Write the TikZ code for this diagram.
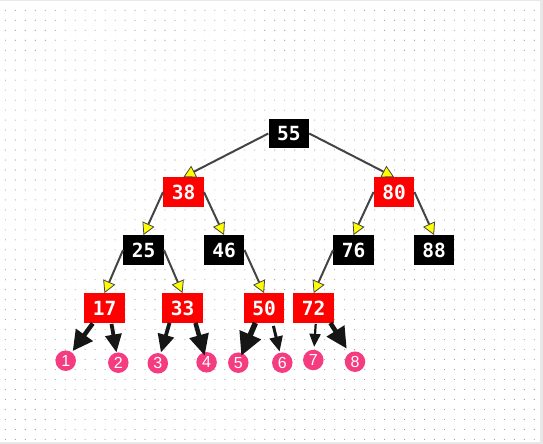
\documentclass[tikz,border=0pt]{standalone}
\usepackage{fontspec}
\newfontfamily\keyfont{DejaVu Sans Mono}
\newfontfamily\leaffont{Liberation Sans}
\definecolor{nodeRed}{RGB}{255, 0, 0}
\definecolor{edgeGray}{RGB}{68, 68, 68}
\definecolor{tipYellow}{RGB}{255, 255, 0}
\definecolor{leafPink}{RGB}{245, 60, 128}
\definecolor{leafInk}{RGB}{22, 22, 22}
\definecolor{dotGray}{RGB}{150, 150, 150}
\definecolor{frameGray}{RGB}{232, 232, 232}
\usetikzlibrary{arrows.meta}

\begin{document}
\begin{tikzpicture}[x=1pt,y=-1pt,
    key/.style={minimum width=40.5pt,minimum height=29.5pt,inner sep=0pt,text=white,
      font=\keyfont\bfseries\fontsize{19.5}{19.5}\selectfont},
    blacknode/.style={key,fill=black},
    rednode/.style={key,fill=nodeRed},
    leafnode/.style={circle,fill=leafPink,minimum size=20.5pt,inner sep=0pt,text=white,
      font=\leaffont\fontsize{16}{16}\selectfont},
    link/.style={draw=edgeGray,line width=2pt,
      -{Triangle[length=12pt,width=13pt,line width=0.8pt,color=edgeGray,fill=tipYellow]}},
    leaf/.style n args={3}{draw=leafInk,line width=#1,-{Triangle[length=#2,width=#3]}}]
  \useasboundingbox (0,0) rectangle (543,444);
  % canvas with dotted grid
  \fill[frameGray] (0,0) rectangle (543,444);
  \fill[white] (0,1) rectangle (539.5,442);
  \foreach \i in {0,...,53}
    \foreach \j in {0,...,43}
      \fill[dotGray] (5.3+9.98*\i,10.3+9.98*\j) circle (0.55pt);

  % Level 0
  \node[blacknode] (n55) at (288.8,133.5) {55};
  % Level 1
  \node[rednode] (n38) at (183.5,192) {38};
  \node[rednode] (n80) at (394,192) {80};
  % Level 2
  \node[blacknode] (n25) at (143.5,250) {25};
  \node[blacknode] (n46) at (224,250) {46};
  \node[blacknode] (n76) at (353.5,250) {76};
  \node[blacknode] (n88) at (434,250) {88};
  % Level 3
  \node[rednode] (n17) at (104.5,308) {17};
  \node[rednode] (n33) at (182.5,308) {33};
  \node[rednode] (n50) at (264,308) {50};
  \node[rednode] (n72) at (313.7,308) {72};
  % leaves
  \node[leafnode] (c1) at (65.7,360.7) {1};
  \node[leafnode] (c2) at (118.3,362.7) {2};
  \node[leafnode] (c3) at (157.8,363.3) {3};
  \node[leafnode] (c4) at (206.6,362.3) {4};
  \node[leafnode] (c5) at (238.3,362.7) {5};
  \node[leafnode] (c6) at (282.3,362.7) {6};
  \node[leafnode] (c7) at (313.3,360) {7};
  \node[leafnode] (c8) at (355,361.7) {8};

  % tree edges
  \draw[link] (n55.west) -- (n38.north);
  \draw[link] (n55.east) -- (n80.north);
  \draw[link] (n38.west) -- (n25.north);
  \draw[link] (n38.east) -- (n46.north);
  \draw[link] (n80.west) -- (n76.north);
  \draw[link] (n80.east) -- (n88.north);
  \draw[link] (n25.west) -- (n17.north);
  \draw[link] (n25.east) -- (n33.north);
  \draw[link] (n46.east) -- (n50.north);
  \draw[link] (n76.west) -- (n72.north);

  % leaf pointers
  \draw[leaf={4.5pt}{20pt}{20pt},shorten >=1.5pt] ([xshift=-11.8pt,yshift=-0.5pt]n17.south) -- (c1);
  \draw[leaf={3.8pt}{18pt}{16pt}] ([xshift=7pt,yshift=-1pt]n17.south) -- (c2);
  \draw[leaf={3.8pt}{18pt}{16pt},shorten >=0.8pt] ([xshift=-13pt]n33.south) -- (c3);
  \draw[leaf={4.5pt}{21pt}{19pt},shorten >=-3.5pt] ([xshift=13pt]n33.south) -- (c4);
  \draw[leaf={5.5pt}{23pt}{22pt},shorten >=-3pt] ([xshift=-8.6pt]n50.south) -- (c5);
  \draw[leaf={3pt}{15pt}{13pt},shorten >=1pt] ([xshift=9.4pt,yshift=-3pt]n50.south) -- (c6);
  \draw[leaf={2.2pt}{13pt}{11pt},shorten >=2.7pt] ([xshift=2pt,yshift=-1pt]n72.south) -- (c7);
  \draw[leaf={4.6pt}{21pt}{20pt},shorten >=5pt] ([xshift=16.7pt]n72.south) -- (c8);
\end{tikzpicture}
\end{document}
